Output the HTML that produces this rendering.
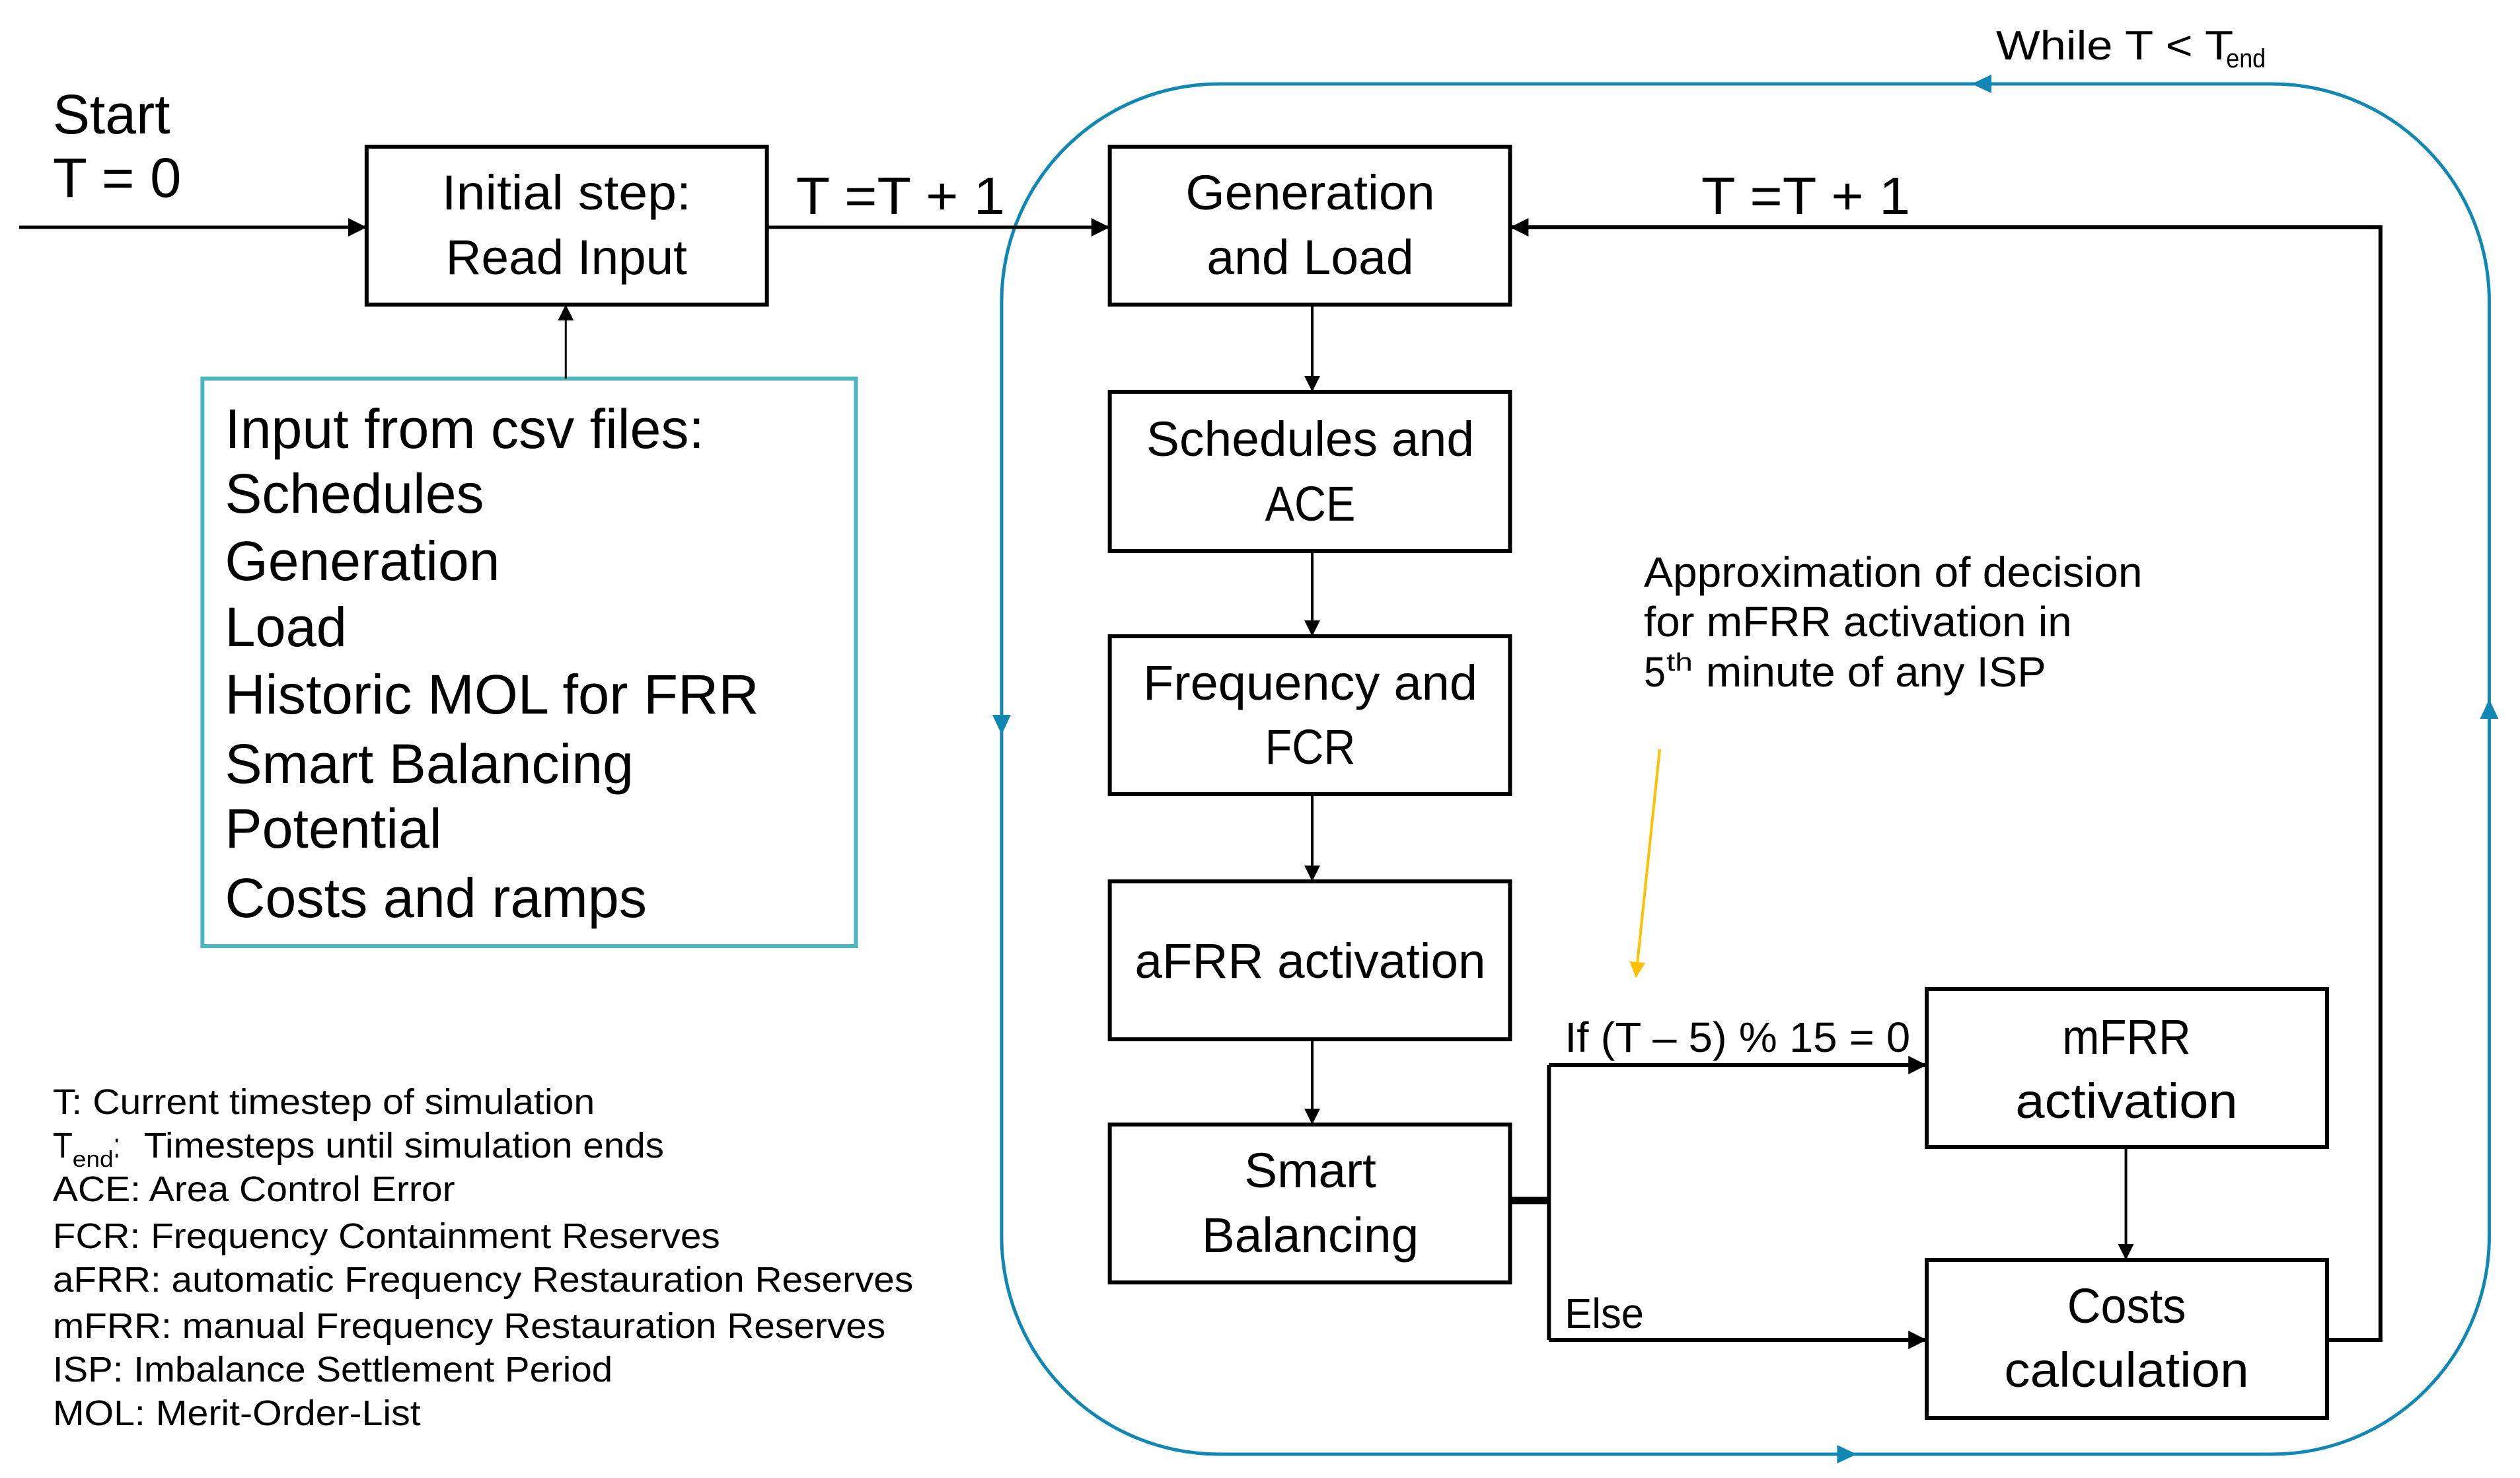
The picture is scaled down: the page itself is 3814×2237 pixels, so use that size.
<!DOCTYPE html>
<html><head><meta charset="utf-8"><style>html,body{margin:0;padding:0;background:#fff}svg{display:block}</style></head>
<body>
<svg width="3814" height="2237" viewBox="0 0 3814 2237" xmlns="http://www.w3.org/2000/svg" font-family="'Liberation Sans', sans-serif" fill="#000">
<defs>
<marker id="ab" markerUnits="userSpaceOnUse" markerWidth="30" markerHeight="28" refX="28" refY="14" orient="auto"><path d="M0,0 L28,14 L0,28 z" fill="#000"/></marker>
<marker id="abs" markerUnits="userSpaceOnUse" markerWidth="26" markerHeight="26" refX="24" refY="12" orient="auto"><path d="M0,0 L24,12 L0,24 z" fill="#000"/></marker>
<marker id="ay" markerUnits="userSpaceOnUse" markerWidth="24" markerHeight="30" refX="22" refY="12" orient="auto"><path d="M0,0 L24,12 L0,24 z" fill="#ffc000"/></marker>
</defs>
<rect width="3814" height="2237" fill="#fff"/>
<g transform="scale(0.998,1)">

<!-- blue loop -->
<rect x="1519" y="127" width="2256" height="2074" rx="330" ry="330" fill="none" stroke="#1187b3" stroke-width="5"/>
<path d="M3020,113 L2990,127 L3020,141 z" fill="#1187b3"/>
<path d="M1505,1082 L1519,1112 L1533,1082 z" fill="#1187b3"/>
<path d="M2786,2187 L2816,2201 L2786,2215 z" fill="#1187b3"/>
<path d="M3761,1088 L3775,1058 L3789,1088 z" fill="#1187b3"/>
<text x="3027" y="90" font-size="62" textLength="360" lengthAdjust="spacingAndGlyphs">While T &lt; T</text>
<text x="3376" y="102" font-size="40" textLength="60" lengthAdjust="spacingAndGlyphs">end</text>

<!-- start -->
<text x="80" y="202" font-size="84" textLength="178" lengthAdjust="spacingAndGlyphs">Start</text>
<text x="80" y="298" font-size="84" textLength="195" lengthAdjust="spacingAndGlyphs">T = 0</text>
<line x1="29" y1="344" x2="556" y2="344" stroke="#000" stroke-width="5" marker-end="url(#ab)"/>

<!-- initial box -->
<rect x="556" y="222" width="607" height="239" fill="none" stroke="#000" stroke-width="6"/>
<text x="859" y="317" font-size="74" text-anchor="middle" textLength="378" lengthAdjust="spacingAndGlyphs">Initial step:</text>
<text x="859" y="415" font-size="74" text-anchor="middle" textLength="366" lengthAdjust="spacingAndGlyphs">Read Input</text>

<text x="1207" y="324" font-size="80" textLength="317" lengthAdjust="spacingAndGlyphs">T =T + 1</text>
<line x1="1163" y1="344" x2="1683" y2="344" stroke="#000" stroke-width="5" marker-end="url(#ab)"/>

<!-- input box -->
<rect x="307" y="573" width="991" height="859" fill="none" stroke="#4bb5c1" stroke-width="6"/>
<line x1="858" y1="573" x2="858" y2="461" stroke="#000" stroke-width="3" marker-end="url(#abs)"/>
<g font-size="84">
<text x="341" y="678" textLength="727" lengthAdjust="spacingAndGlyphs">Input from csv files:</text>
<text x="341" y="776" textLength="393" lengthAdjust="spacingAndGlyphs">Schedules</text>
<text x="341" y="878" textLength="417" lengthAdjust="spacingAndGlyphs">Generation</text>
<text x="341" y="978" textLength="185" lengthAdjust="spacingAndGlyphs">Load</text>
<text x="341" y="1080" textLength="810" lengthAdjust="spacingAndGlyphs">Historic MOL for FRR</text>
<text x="341" y="1185" textLength="620" lengthAdjust="spacingAndGlyphs">Smart Balancing</text>
<text x="341" y="1283" textLength="329" lengthAdjust="spacingAndGlyphs">Potential</text>
<text x="341" y="1388" textLength="640" lengthAdjust="spacingAndGlyphs">Costs and ramps</text>
</g>

<!-- main column -->
<g fill="none" stroke="#000" stroke-width="6">
<rect x="1683" y="222" width="607" height="239"/>
<rect x="1683" y="593" width="607" height="241"/>
<rect x="1683" y="963" width="607" height="239"/>
<rect x="1683" y="1334" width="607" height="239"/>
<rect x="1683" y="1702" width="607" height="239"/>
<rect x="2922" y="1497" width="607" height="239"/>
<rect x="2922" y="1907" width="607" height="239"/>
</g>
<g stroke="#000" stroke-width="4">
<line x1="1990" y1="461" x2="1990" y2="593" marker-end="url(#abs)"/>
<line x1="1990" y1="834" x2="1990" y2="963" marker-end="url(#abs)"/>
<line x1="1990" y1="1202" x2="1990" y2="1334" marker-end="url(#abs)"/>
<line x1="1990" y1="1573" x2="1990" y2="1702" marker-end="url(#abs)"/>
<line x1="3224" y1="1736" x2="3224" y2="1907" marker-end="url(#abs)"/>
</g>
<g font-size="74" text-anchor="middle">
<text x="1987" y="317" textLength="378" lengthAdjust="spacingAndGlyphs">Generation</text>
<text x="1987" y="415" textLength="314" lengthAdjust="spacingAndGlyphs">and Load</text>
<text x="1987" y="690" textLength="497" lengthAdjust="spacingAndGlyphs">Schedules and</text>
<text x="1987" y="788" textLength="137" lengthAdjust="spacingAndGlyphs">ACE</text>
<text x="1987" y="1059" textLength="507" lengthAdjust="spacingAndGlyphs">Frequency and</text>
<text x="1987" y="1156" textLength="137" lengthAdjust="spacingAndGlyphs">FCR</text>
<text x="1987" y="1480" textLength="532" lengthAdjust="spacingAndGlyphs">aFRR activation</text>
<text x="1987" y="1797" textLength="200" lengthAdjust="spacingAndGlyphs">Smart</text>
<text x="1987" y="1895" textLength="329" lengthAdjust="spacingAndGlyphs">Balancing</text>
<text x="3225" y="1595" textLength="195" lengthAdjust="spacingAndGlyphs">mFRR</text>
<text x="3225" y="1692" textLength="337" lengthAdjust="spacingAndGlyphs">activation</text>
<text x="3225" y="2002" textLength="180" lengthAdjust="spacingAndGlyphs">Costs</text>
<text x="3225" y="2099" textLength="371" lengthAdjust="spacingAndGlyphs">calculation</text>
</g>

<!-- branches -->
<line x1="2290" y1="1817" x2="2349" y2="1817" stroke="#000" stroke-width="11"/>
<polyline points="2349,1612 2349,2028" fill="none" stroke="#000" stroke-width="6"/>
<line x1="2349" y1="1612" x2="2922" y2="1612" stroke="#000" stroke-width="6" marker-end="url(#ab)"/>
<line x1="2349" y1="2028" x2="2922" y2="2028" stroke="#000" stroke-width="6" marker-end="url(#ab)"/>
<text x="2373" y="1592" font-size="64" textLength="524" lengthAdjust="spacingAndGlyphs">If (T – 5) % 15 = 0</text>
<text x="2373" y="2010" font-size="64" textLength="120" lengthAdjust="spacingAndGlyphs">Else</text>

<!-- return -->
<polyline points="3529,2028 3610,2028 3610,344 2290,344" fill="none" stroke="#000" stroke-width="6" marker-end="url(#ab)"/>
<text x="2580" y="324" font-size="80" textLength="317" lengthAdjust="spacingAndGlyphs">T =T + 1</text>

<!-- annotation -->
<g font-size="64">
<text x="2493" y="888" textLength="756" lengthAdjust="spacingAndGlyphs">Approximation of decision</text>
<text x="2493" y="963" textLength="649" lengthAdjust="spacingAndGlyphs">for mFRR activation in</text>
<text x="2493" y="1039" textLength="33" lengthAdjust="spacingAndGlyphs">5</text>
<text x="2527" y="1015" font-size="38" textLength="40" lengthAdjust="spacingAndGlyphs">th</text>
<text x="2587" y="1039" textLength="516" lengthAdjust="spacingAndGlyphs">minute of any ISP</text>
</g>
<line x1="2517" y1="1134" x2="2481" y2="1478" stroke="#ffc000" stroke-width="4" marker-end="url(#ay)"/>

<!-- legend -->
<g font-size="54">
<text x="80" y="1686" textLength="822" lengthAdjust="spacingAndGlyphs">T: Current timestep of simulation</text>
<text x="80" y="1752" textLength="30" lengthAdjust="spacingAndGlyphs">T</text>
<text x="110" y="1766" font-size="34" textLength="62" lengthAdjust="spacingAndGlyphs">end</text>
<text x="172" y="1752" textLength="10" lengthAdjust="spacingAndGlyphs">:</text>
<text x="218" y="1752" textLength="789" lengthAdjust="spacingAndGlyphs">Timesteps until simulation ends</text>
<text x="80" y="1818" textLength="610" lengthAdjust="spacingAndGlyphs">ACE: Area Control Error</text>
<text x="80" y="1889" textLength="1012" lengthAdjust="spacingAndGlyphs">FCR: Frequency Containment Reserves</text>
<text x="80" y="1955" textLength="1305" lengthAdjust="spacingAndGlyphs">aFRR: automatic Frequency Restauration Reserves</text>
<text x="80" y="2025" textLength="1263" lengthAdjust="spacingAndGlyphs">mFRR: manual Frequency Restauration Reserves</text>
<text x="80" y="2091" textLength="849" lengthAdjust="spacingAndGlyphs">ISP: Imbalance Settlement Period</text>
<text x="80" y="2157" textLength="558" lengthAdjust="spacingAndGlyphs">MOL: Merit-Order-List</text>
</g>
</g>
</svg>
</body></html>
